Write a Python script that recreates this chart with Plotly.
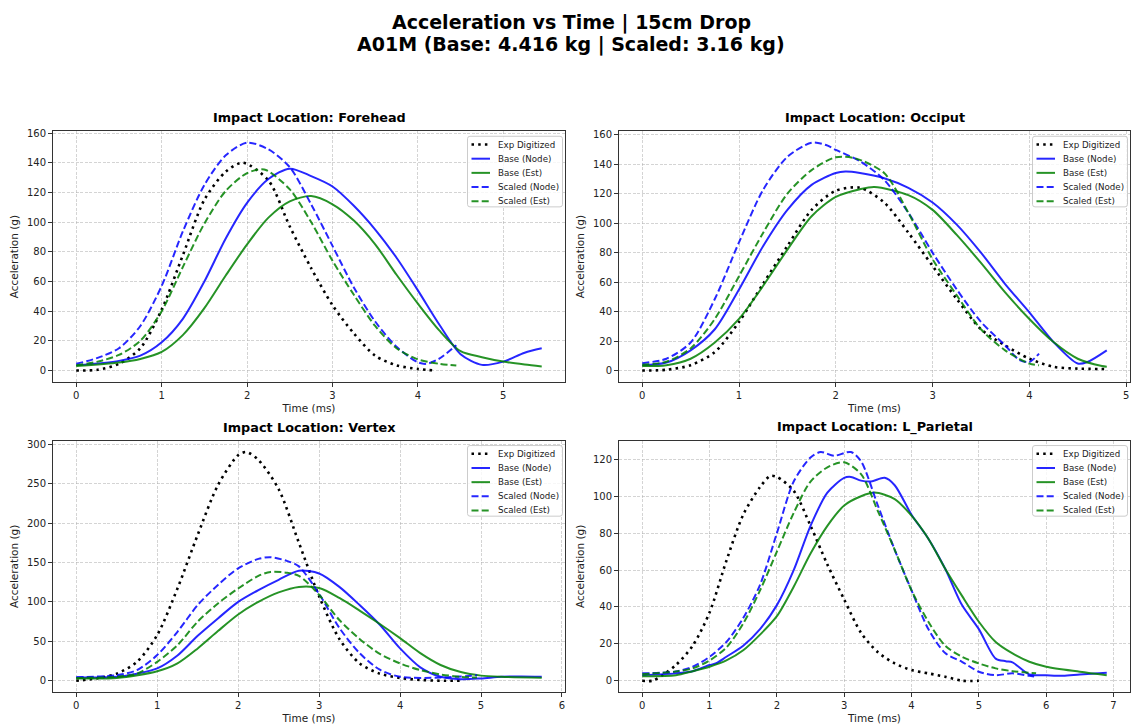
import plotly.graph_objects as go

# ---------------- DATA ----------------
# Forehead
fh_exp_t = [0, 0.25, 0.5, 0.75, 1.0, 1.25, 1.5, 1.75, 1.95, 2.25, 2.5, 2.75, 3.0, 3.25, 3.5, 3.75, 4.0, 4.2]
fh_exp_a = [0, 0.5, 4.5, 15, 41, 78, 115, 134, 140, 128, 97, 69, 44, 25, 10, 3.5, 1, 0]
fh_bn_t = [0, 0.5, 0.75, 1.0, 1.25, 1.5, 1.75, 2.0, 2.25, 2.5, 2.75, 3.0, 3.25, 3.5, 3.75, 4.0, 4.25, 4.5, 4.75, 5.0, 5.25, 5.45]
fh_bn_a = [3.5, 6.5, 10, 19, 35, 60, 89, 113, 129, 136, 131, 124, 111, 95, 76, 54, 31, 11, 3.8, 6, 12, 15]
fh_be_t = [0, 0.5, 0.75, 1.0, 1.25, 1.5, 1.75, 2.0, 2.25, 2.5, 2.75, 3.0, 3.25, 3.5, 3.75, 4.0, 4.25, 4.5, 4.75, 5.0, 5.25, 5.45]
fh_be_a = [3, 5.4, 7.8, 12.5, 24, 42, 64, 85, 103, 114, 117.5, 112, 101, 85, 64.5, 45, 27, 13, 9, 6, 4, 2.7]
fh_sn_t = [0, 0.25, 0.5, 0.75, 1.0, 1.25, 1.5, 1.75, 2.0, 2.25, 2.5, 2.75, 3.0, 3.25, 3.5, 3.75, 4.0, 4.1, 4.25, 4.45]
fh_sn_a = [4.5, 8.5, 15, 30, 57, 94, 125, 145, 153.5, 149, 137, 112, 84, 56, 33, 16, 5.5, 4.5, 8, 17]
fh_se_t = [0, 0.25, 0.5, 0.75, 1.0, 1.25, 1.5, 1.75, 2.0, 2.2, 2.5, 2.75, 3.0, 3.25, 3.5, 3.75, 4.0, 4.25, 4.45]
fh_se_a = [3.5, 6, 10.5, 20, 40, 70, 99, 121, 133, 135.5, 122, 100, 74, 51, 30, 15, 7.5, 4.5, 3.3]

# Occiput
oc_exp_t = [0, 0.25, 0.5, 0.75, 1.0, 1.25, 1.5, 1.75, 2.0, 2.25, 2.5, 2.75, 3.0, 3.25, 3.5, 3.75, 4.0, 4.25, 4.5, 4.8]
oc_exp_a = [0, 0.5, 3.6, 12.6, 33, 59, 84.5, 109, 122, 124, 114, 93.5, 71, 48.5, 28, 17, 8, 2.5, 1.3, 1]
oc_bn_t = [0, 0.25, 0.5, 0.75, 1.0, 1.25, 1.5, 1.75, 2.0, 2.1, 2.25, 2.5, 2.75, 3.0, 3.25, 3.5, 3.75, 4.0, 4.25, 4.5, 4.6, 4.8]
oc_bn_a = [3.5, 5.4, 13.7, 28, 55, 84.5, 109, 126, 134, 135, 134, 130.5, 124, 114, 99, 80, 58.7, 39.5, 19.3, 4.7, 5.8, 13.7]
oc_be_t = [0, 0.25, 0.5, 0.75, 1.0, 1.25, 1.5, 1.75, 2.0, 2.25, 2.4, 2.75, 3.0, 3.25, 3.5, 3.75, 4.0, 4.25, 4.5, 4.75, 4.8]
oc_be_a = [3, 3.6, 8, 19, 35, 57.5, 82, 104.7, 117.8, 123, 124.5, 119, 109, 92, 73, 53, 35, 19.3, 8, 3, 2.5]
oc_sn_t = [0, 0.25, 0.5, 0.75, 1.0, 1.25, 1.5, 1.75, 1.9, 2.0, 2.25, 2.5, 2.75, 3.0, 3.25, 3.5, 3.75, 3.9, 4.0, 4.1]
oc_sn_a = [5, 8, 19, 48.5, 87, 122.7, 145, 154.6, 153, 149.7, 142, 129.4, 107, 80, 55, 33, 17, 7, 5.8, 11.5]
oc_se_t = [0, 0.25, 0.5, 0.75, 1.0, 1.25, 1.5, 1.75, 2.0, 2.2, 2.5, 2.75, 3.0, 3.25, 3.5, 3.75, 4.0, 4.1]
oc_se_a = [4, 6, 15, 35, 64, 93.5, 120, 136, 144.7, 144, 134, 107, 75.5, 51, 28, 13.7, 4.7, 3.6]

# Vertex
vx_exp_t = [0, 0.25, 0.5, 0.75, 1.0, 1.25, 1.5, 1.75, 2.0, 2.1, 2.25, 2.5, 2.75, 3.0, 3.25, 3.5, 3.75, 4.0, 4.25, 4.5, 4.75]
vx_exp_a = [0, 3, 9, 24, 58, 117, 185, 248, 286, 290, 280, 243, 175, 107, 53, 22, 9, 3.5, 1, 0, 0]
vx_bn_t = [0, 0.5, 0.75, 1.0, 1.25, 1.5, 1.75, 2.0, 2.25, 2.5, 2.75, 3.0, 3.25, 3.5, 3.75, 4.0, 4.25, 4.5, 4.75, 5.0, 5.25, 5.5, 5.75]
vx_bn_a = [4, 5, 9, 15.6, 32, 57, 79, 100, 115, 128, 139.5, 136, 119, 96, 71, 41, 17, 5, 2, 3, 5, 5.5, 5]
vx_be_t = [0, 0.5, 1.0, 1.25, 1.5, 1.75, 2.0, 2.25, 2.5, 2.75, 3.0, 3.25, 3.5, 3.75, 4.0, 4.25, 4.5, 4.75, 5.0, 5.25, 5.75]
vx_be_a = [3, 3.5, 12, 22, 41, 63, 84, 100, 112, 119, 117.5, 105, 89, 72, 54, 35, 20, 11, 6.5, 5, 3.8]
vx_sn_t = [0, 0.5, 0.75, 1.0, 1.25, 1.5, 1.75, 2.0, 2.25, 2.4, 2.6, 2.75, 3.0, 3.25, 3.5, 3.75, 4.0, 4.5, 4.95]
vx_sn_a = [4.5, 7, 13.5, 32.6, 62, 96, 121.5, 142.6, 154.5, 156.6, 152, 145, 110, 67, 35, 14, 5, 4, 7]
vx_se_t = [0, 0.5, 0.75, 1.0, 1.25, 1.5, 1.75, 2.0, 2.25, 2.4, 2.6, 2.75, 3.0, 3.25, 3.5, 3.75, 4.0, 4.25, 4.5, 4.75, 4.95]
vx_se_a = [3.5, 5, 9, 24, 45, 75, 98, 117, 133, 138, 137, 133, 109, 77, 53, 34, 22, 13.5, 8, 5, 4]

# L_Parietal
lp_exp_t = [0, 0.15, 0.3, 0.5, 0.75, 1.0, 1.25, 1.5, 1.75, 1.9, 2.0, 2.25, 2.5, 2.75, 3.0, 3.25, 3.5, 3.75, 4.0, 4.25, 4.5, 4.75, 5.0]
lp_exp_a = [0, 0, 3, 8.5, 19, 37, 65, 90, 105, 111, 110.5, 103, 84, 63, 44, 26, 15.5, 9.4, 5.8, 4, 2.2, 0, 0]
lp_bn_t = [0, 0.5, 0.75, 1.0, 1.1, 1.25, 1.5, 1.75, 2.0, 2.25, 2.5, 2.75, 3.0, 3.1, 3.25, 3.4, 3.6, 3.75, 4.0, 4.25, 4.5, 4.75, 5.0, 5.25, 5.4, 5.5, 5.75, 6.0, 6.25, 6.5, 6.9]
lp_bn_a = [3, 4, 5.2, 8.5, 9.5, 13, 19, 28, 41, 60, 84, 102, 110, 110.5, 108.5, 108, 110, 106, 90, 77, 60.7, 41, 28, 12, 10.6, 10, 3.4, 3, 2.7, 3.4, 4.3]
lp_be_t = [0, 0.5, 0.75, 1.0, 1.25, 1.5, 1.75, 2.0, 2.25, 2.5, 2.75, 3.0, 3.25, 3.45, 3.75, 4.0, 4.25, 4.5, 4.75, 5.0, 5.25, 5.5, 5.75, 6.0, 6.5, 6.9]
lp_be_a = [2.5, 3, 5.2, 7.6, 11, 16.5, 25, 35, 51, 69, 84, 95, 100, 102, 98.5, 89.5, 77, 60.7, 46, 32, 21, 14.8, 10.3, 7.6, 4.9, 3]
lp_sn_t = [0, 0.5, 0.75, 1.0, 1.25, 1.5, 1.75, 2.0, 2.25, 2.5, 2.65, 2.85, 3.1, 3.25, 3.5, 3.75, 4.0, 4.25, 4.5, 4.75, 5.0, 5.25, 5.5, 5.75, 5.85]
lp_sn_a = [4, 5, 7.6, 13, 21, 34, 52, 80, 108, 121, 124, 122, 124, 119, 95, 71, 49, 28, 15, 10.3, 4.9, 3, 4, 2.7, 2.2]
lp_se_t = [0, 0.5, 0.75, 1.0, 1.25, 1.5, 1.75, 2.0, 2.25, 2.5, 2.75, 3.0, 3.25, 3.5, 3.75, 4.0, 4.25, 4.5, 4.75, 5.0, 5.25, 5.5, 5.85]
lp_se_a = [3.5, 5, 6.7, 11, 18, 31, 49, 70, 91, 108, 115.7, 118.4, 112, 92, 71, 49, 32, 19, 13, 9.4, 6.7, 5.2, 4]

locations = ["Forehead", "Occiput", "Vertex", "L_Parietal"]
series_names = ["Exp Digitized", "Base (Node)", "Base (Est)", "Scaled (Node)", "Scaled (Est)"]
panels = [
    [(fh_exp_t, fh_exp_a), (fh_bn_t, fh_bn_a), (fh_be_t, fh_be_a), (fh_sn_t, fh_sn_a), (fh_se_t, fh_se_a)],
    [(oc_exp_t, oc_exp_a), (oc_bn_t, oc_bn_a), (oc_be_t, oc_be_a), (oc_sn_t, oc_sn_a), (oc_se_t, oc_se_a)],
    [(vx_exp_t, vx_exp_a), (vx_bn_t, vx_bn_a), (vx_be_t, vx_be_a), (vx_sn_t, vx_sn_a), (vx_se_t, vx_se_a)],
    [(lp_exp_t, lp_exp_a), (lp_bn_t, lp_bn_a), (lp_be_t, lp_be_a), (lp_sn_t, lp_sn_a), (lp_se_t, lp_se_a)],
]
title_line1 = "Acceleration vs Time | 15cm Drop"
title_line2 = "A01M (Base: 4.416 kg | Scaled: 3.16 kg)"
x_dtick = [1, 1, 1, 1]
y_dtick = [20, 20, 50, 20]

# ---------------- STYLE ----------------
W, H = 1132, 726
BLUE = "rgba(0,0,255,0.85)"
GREEN = "rgba(0,128,0,0.85)"
DOT = "2.5px,4.2px"
DASH = "7px,3.2px"
styles = [
    dict(color="black", width=2.6, dash=DOT),
    dict(color=BLUE, width=2, dash="solid"),
    dict(color=GREEN, width=2, dash="solid"),
    dict(color=BLUE, width=2, dash=DASH),
    dict(color=GREEN, width=2, dash=DASH),
]
# axes boxes in pixels: left, right, top, bottom
boxes = [(53, 565, 128, 380), (619, 1130, 128, 380), (53, 565, 439, 692), (619, 1130, 439, 692)]
FONT = "DejaVu Sans, Verdana, sans-serif"


def fx(px):
    return px / W


def fy(py):
    return 1 - py / H


fig = go.Figure()
layout = dict(
    width=W, height=H, margin=dict(l=0, r=0, t=0, b=0),
    paper_bgcolor="white", plot_bgcolor="white",
    font=dict(family=FONT, size=10, color="#222"),
    showlegend=False,
)
annotations = []
shapes = []
for i, (loc, panel) in enumerate(zip(locations, panels)):
    n = "" if i == 0 else str(i + 1)
    L, R, T, B = boxes[i]
    all_t = [t for s in panel for t in s[0]]
    all_a = [a for s in panel for a in s[1]]
    tmin, tmax = min(all_t), max(all_t)
    amin, amax = min(all_a), max(all_a)
    tp = 0.05 * (tmax - tmin)
    ap = 0.05 * (amax - amin)
    for j, (t, a) in enumerate(panel):
        fig.add_trace(go.Scatter(
            x=t, y=a, mode="lines", name=series_names[j],
            line=dict(shape="spline", smoothing=0.8, **styles[j]),
            xaxis="x" + n, yaxis="y" + n,
        ))
    common = dict(
        showline=True, mirror=True, linecolor="#333", linewidth=1,
        ticks="outside", ticklen=4, tickcolor="#333", tickwidth=1,
        showgrid=True, gridcolor="rgba(170,170,170,0.5)", griddash="3px,1.5px", gridwidth=0.8,
        zeroline=False, tickfont=dict(size=10, color="#222"),
    )
    layout["xaxis" + n] = dict(
        domain=[fx(L), fx(R)], anchor="y" + n, range=[tmin - tp, tmax + tp],
        dtick=x_dtick[i], tick0=0,
        title=dict(text="Time (ms)", font=dict(size=10.5), standoff=4), **common)
    layout["yaxis" + n] = dict(
        domain=[fy(B), fy(T)], anchor="x" + n, range=[amin - ap, amax + ap],
        dtick=y_dtick[i], tick0=0,
        title=dict(text="Acceleration (g)", font=dict(size=10.5), standoff=6), **common)

    # subplot title
    annotations.append(dict(
        text="<b>Impact Location: %s</b>" % loc, x=fx((L + R) / 2), y=fy(T - 4),
        xref="paper", yref="paper", xanchor="center", yanchor="bottom",
        showarrow=False, font=dict(size=12.8, color="black"),
    ))

    # legend box (drawn like matplotlib's fancybox legend)
    bx0, bx1, by0, by1 = R - 97.5, R - 2.5, T + 5, T + 76
    r = 2.5
    path = (
        f"M {fx(bx0 + r)} {fy(by0)} L {fx(bx1 - r)} {fy(by0)} "
        f"Q {fx(bx1)} {fy(by0)} {fx(bx1)} {fy(by0 + r)} "
        f"L {fx(bx1)} {fy(by1 - r)} Q {fx(bx1)} {fy(by1)} {fx(bx1 - r)} {fy(by1)} "
        f"L {fx(bx0 + r)} {fy(by1)} Q {fx(bx0)} {fy(by1)} {fx(bx0)} {fy(by1 - r)} "
        f"L {fx(bx0)} {fy(by0 + r)} Q {fx(bx0)} {fy(by0)} {fx(bx0 + r)} {fy(by0)} Z"
    )
    shapes.append(dict(type="path", path=path, xref="paper", yref="paper",
                       fillcolor="rgba(255,255,255,0.8)", line=dict(color="#cccccc", width=1),
                       layer="above"))
    for k, name in enumerate(series_names):
        ry = T + 13.3 + k * 14.25
        st = styles[k]
        shapes.append(dict(type="line", xref="paper", yref="paper",
                           x0=fx(bx0 + 4), x1=fx(bx0 + 22.5), y0=fy(ry), y1=fy(ry),
                           line=dict(color=st["color"], width=st["width"], dash=st["dash"]),
                           layer="above"))
        annotations.append(dict(
            text=name, x=fx(bx0 + 28), y=fy(ry), xref="paper", yref="paper",
            xanchor="left", yanchor="middle", showarrow=False,
            font=dict(size=8.7, color="#222"),
        ))

annotations.append(dict(
    text="<b>%s</b>" % title_line1, x=fx(571), y=fy(19), xref="paper", yref="paper",
    xanchor="center", yanchor="middle", showarrow=False, font=dict(size=19, color="black"),
))
annotations.append(dict(
    text="<b>%s</b>" % title_line2, x=fx(571), y=fy(41), xref="paper", yref="paper",
    xanchor="center", yanchor="middle", showarrow=False, font=dict(size=19, color="black"),
))
layout["annotations"] = annotations
layout["shapes"] = shapes
fig.update_layout(**layout)
fig.write_html("out.html")
